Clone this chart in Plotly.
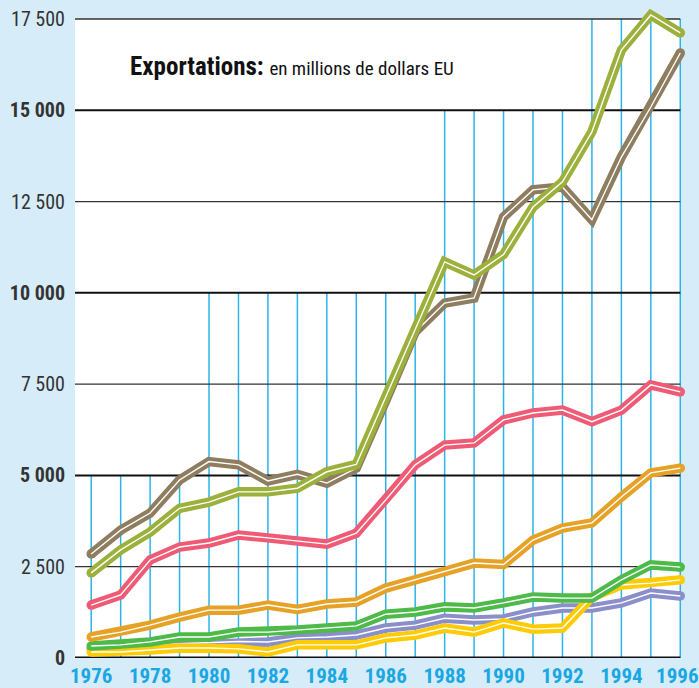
import plotly.graph_objects as go

years = list(range(1976, 1997))
brown = [2850, 3500, 3970, 4875, 5380, 5290, 4850, 5030, 4790, 5200, 7050, 8930, 9720, 9860,
         12080, 12820, 12900, 12000, 13720, 15090, 16570]
olive = [2330, 2960, 3450, 4100, 4270, 4550, 4550, 4650, 5100, 5300, 7150, 8980, 10850, 10490,
         11050, 12350, 13040, 14410, 16650, 17610, 17120]
pink = [1450, 1725, 2685, 3040, 3150, 3370, 3290, 3200, 3120, 3420, 4330, 5290, 5830, 5890,
        6520, 6710, 6790, 6470, 6790, 7480, 7290]
orange = [575, 710, 900, 1120, 1310, 1310, 1450, 1330, 1480, 1535, 1915, 2140, 2360, 2600,
          2560, 3230, 3560, 3700, 4410, 5070, 5200]
green = [330, 360, 440, 575, 575, 710, 710, 770, 820, 880, 1200, 1260, 1400, 1370,
         1510, 1670, 1640, 1640, 2140, 2550, 2490]
lavender = [250, 280, 330, 390, 420, 450, 440, 550, 575, 630, 820, 900, 1090, 1040,
            1070, 1260, 1370, 1370, 1510, 1780, 1700]
yellow = [165, 165, 220, 275, 275, 250, 165, 360, 360, 360, 550, 630, 820, 710,
          960, 790, 820, 1670, 2000, 2050, 2140]

grid_tops = [5000] * 4 + [10000] * 8 + [15000] * 5 + [17500] * 4
ytick_vals = [0, 2500, 5000, 7500, 10000, 12500, 15000, 17500]
ytick_text = ["<b>0</b>", "2 500", "<b>5 000</b>", "7 500", "<b>10 000</b>", "12 500",
              "<b>15 000</b>", "17 500"]
xtick_vals = list(range(1976, 1997, 2))
xtick_text = [f"<b>{y}</b>" for y in xtick_vals]

series = [
    ("lavender", lavender, "#8a8fca"),
    ("yellow", yellow, "#ffcb05"),
    ("green", green, "#4dba4a"),
    ("orange", orange, "#e6a226"),
    ("pink", pink, "#ef5b75"),
    ("brown", brown, "#8e7d5f"),
    ("olive", olive, "#9cb03c"),
]

FONT = "Roboto Condensed, Roboto, sans-serif"
BG = "#d6ecf8"
GRIDBLUE = "#2cb4ea"

fig = go.Figure()
for name, vals, col in series:
    fig.add_trace(go.Scatter(x=years, y=vals, mode="lines", name=name,
                             line=dict(color=col, width=9.5), hoverinfo="skip"))
    fig.add_trace(go.Scatter(x=[years[0], years[-1]], y=[vals[0], vals[-1]], mode="markers",
                             marker=dict(color=col, size=9.5, line=dict(width=0)),
                             hoverinfo="skip"))
    fig.add_trace(go.Scatter(x=years, y=vals, mode="lines",
                             line=dict(color="white", width=1.4), hoverinfo="skip"))

shapes = [dict(type="rect", xref="x", yref="y", x0=1975.45, x1=1996, y0=0, y1=17500,
               fillcolor="white", line=dict(width=0), layer="below")]
for yr, top in zip(years, grid_tops):
    shapes.append(dict(type="line", xref="x", yref="y", x0=yr, x1=yr, y0=0, y1=top,
                       line=dict(color=GRIDBLUE, width=1.5), layer="below"))
for v in ytick_vals:
    w = 3 if v == 0 else (2 if v % 5000 == 0 else 1.3)
    shapes.append(dict(type="line", xref="x", yref="y", x0=1975.45, x1=1996, y0=v, y1=v,
                       line=dict(color="#111111" if v % 5000 == 0 else "#333333", width=w),
                       layer="below"))

# nudge the last label slightly inward so it stays fully inside the page
xtick_pos = list(xtick_vals)
xtick_pos[-1] = xtick_pos[-1] - 0.1

fig.update_layout(
    width=699, height=688,
    margin=dict(l=75, r=4, t=4, b=30),
    paper_bgcolor=BG, plot_bgcolor=BG,
    showlegend=False,
    template="none",
    shapes=shapes,
    xaxis=dict(range=[1975.45, 1996.5], tickvals=xtick_pos, ticktext=xtick_text,
               showgrid=False, zeroline=False, showline=False, ticks="",
               tickfont=dict(family=FONT, size=21, color="#1aa7e3"), tickangle=0,
               ticklabeloverflow="allow",
               ticklabelstandoff=3, automargin=False, fixedrange=True),
    yaxis=dict(range=[0, 17911], tickvals=ytick_vals, ticktext=ytick_text,
               showgrid=False, zeroline=False, showline=False, ticks="",
               tickfont=dict(family=FONT, size=20, color="#333333"),
               ticklabelstandoff=9, automargin=False, fixedrange=True),
    annotations=[dict(xref="paper", yref="paper", x=0.0855, y=0.905, xanchor="left",
                      yanchor="middle", showarrow=False,
                      text="<b>Exportations:</b> <span style='font-size:19px'>en millions de dollars EU</span>",
                      font=dict(family=FONT, size=25, color="#111111"))],
)

fig.write_html("out.html", config={"displayModeBar": False},
               post_script="document.body.style.margin='0px';document.body.style.background='" + BG + "';")
